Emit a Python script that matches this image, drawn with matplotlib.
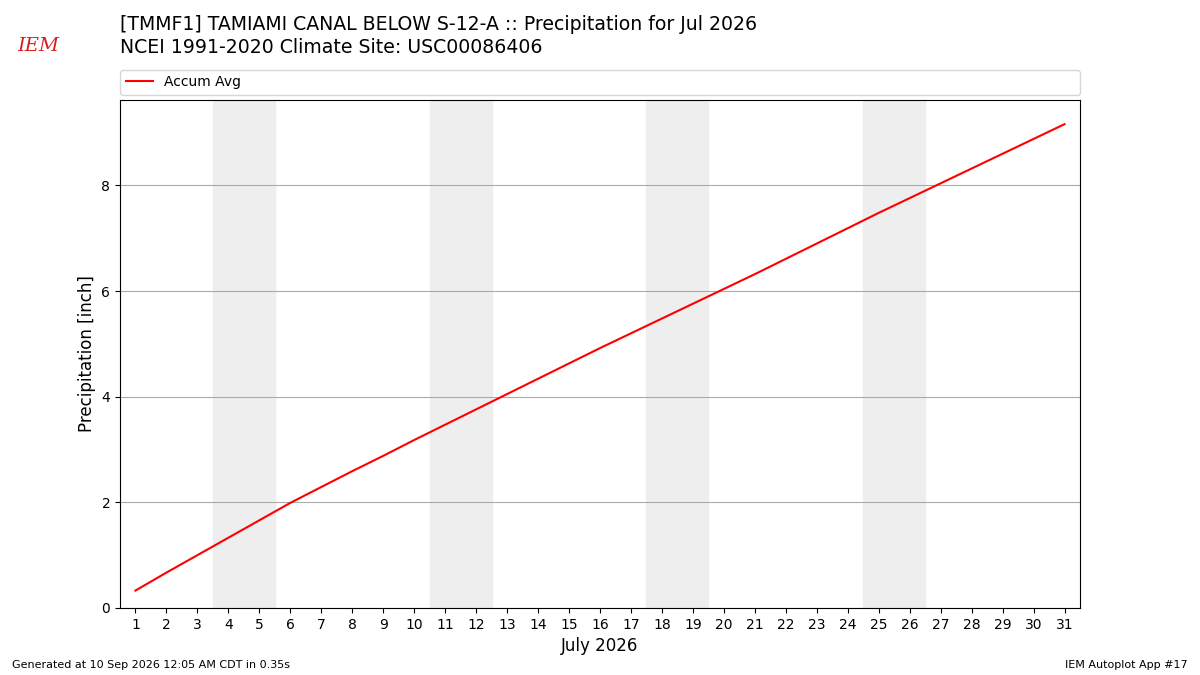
import matplotlib
matplotlib.use("Agg")
import matplotlib.pyplot as plt

days = list(range(1, 32))
accum_avg = [0.33, 0.67, 1.00, 1.33, 1.66, 1.99, 2.29, 2.59, 2.88, 3.18,
             3.47, 3.76, 4.05, 4.34, 4.63, 4.92, 5.20, 5.48, 5.76, 6.04,
             6.32, 6.61, 6.90, 7.19, 7.48, 7.76, 8.04, 8.32, 8.60, 8.88, 9.16]
weekend_starts = [4, 11, 18, 25]

title = ("[TMMF1] TAMIAMI CANAL BELOW S-12-A :: Precipitation for Jul 2026\n"
         "NCEI 1991-2020 Climate Site: USC00086406")

fig = plt.figure(figsize=(12, 6.75), dpi=100)
ax = fig.add_axes([0.1, 0.0993, 0.8, 0.7526])

for d in weekend_starts:
    ax.axvspan(d - 0.5, d + 1.5, color="#eeeeee", zorder=0)

ax.plot(days, accum_avg, color="r", lw=1.5, label="Accum Avg", zorder=3)

ax.set_xlim(0.5, 31.5)
ax.set_ylim(0, max(accum_avg) * 1.05)
ax.set_xticks(days)
ax.set_yticks([0, 2, 4, 6, 8])
ax.grid(axis="y", color="#aaaaaa", lw=0.8)
ax.set_axisbelow(True)
ax.set_xlabel("July 2026", fontsize=12)
ax.set_ylabel("Precipitation [inch]", fontsize=12)

ax.legend(loc="lower left", bbox_to_anchor=(0, 1.01, 1, 0.05), mode="expand",
          ncol=1, borderaxespad=0, fontsize=10)

fig.text(0.1, 0.916, title, fontsize=13.6, ha="left", va="bottom", linespacing=1.25)
fig.text(0.01, 0.01, "Generated at 10 Sep 2026 12:05 AM CDT in 0.35s", fontsize=8)
fig.text(0.99, 0.01, "IEM Autoplot App #17", fontsize=8, ha="right")

# rough logo stand-in
fig.text(0.032, 0.932, "IEM", fontsize=14, color="#d62020", family="DejaVu Serif",
         style="italic", ha="center", va="center")

fig.savefig("out.png", dpi=100)
